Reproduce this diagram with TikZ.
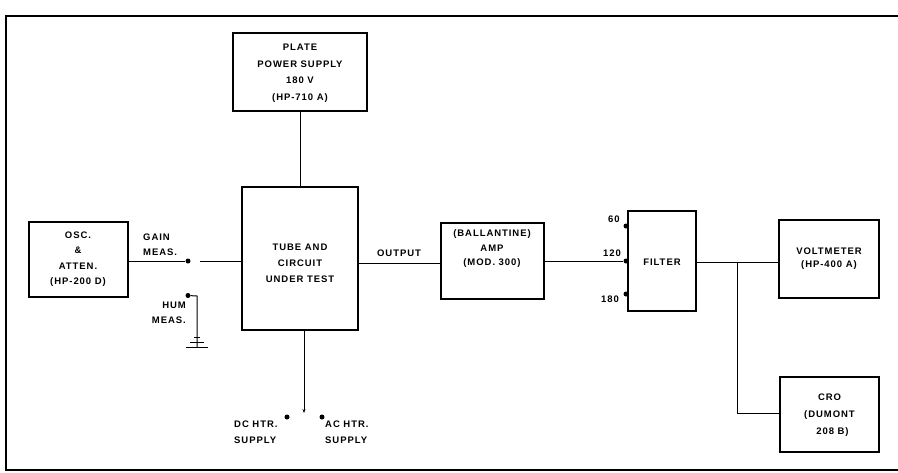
\documentclass[tikz,border=0pt]{standalone}
\usepackage{fontspec}
\setmainfont{Liberation Sans}[LetterSpace=10]
\usetikzlibrary{arrows.meta}
\begin{document}
\begin{tikzpicture}[x=1pt,y=-1pt,
  box/.style={draw,line width=1.6pt,inner sep=0pt},
  wire/.style={line width=1pt},
  lbl/.style={font=\fontsize{9.5}{15.5}\selectfont\bfseries,align=center,inner sep=0pt},
  dotn/.style={circle,fill,inner sep=0pt,minimum size=5pt}]
\useasboundingbox (0,0) rectangle (898,472);
% frame
\draw[line width=1.8pt] (898,16) -- (6,16) -- (6,470) -- (898,470);
% boxes
\node[box,minimum width=99pt,minimum height=75pt] (osc) at (78.5,259.5) {};
\node[box,minimum width=134pt,minimum height=78pt] (plate) at (300,72) {};
\node[box,minimum width=116pt,minimum height=143pt] (tube) at (300,258.5) {};
\node[box,minimum width=103pt,minimum height=76pt] (amp) at (492.5,261) {};
\node[box,minimum width=68pt,minimum height=100pt] (filt) at (662,261) {};
\node[box,minimum width=100pt,minimum height=78pt] (volt) at (829,259) {};
\node[box,minimum width=99pt,minimum height=75pt] (cro) at (829.5,414.5) {};
% box texts
\node[lbl] (osct) at (78,259) {OSC.\\\&\\ATTEN.\\(HP-200 D)};
\node[lbl,font=\fontsize{9.5}{16.5}\selectfont\bfseries] (platet) at (300,73) {PLATE\\POWER SUPPLY\\180 V\\(HP-710 A)};
\node[lbl,font=\fontsize{9.5}{16}\selectfont\bfseries] (tubet) at (300,263) {TUBE AND\\CIRCUIT\\UNDER TEST};
\node[lbl,font=\fontsize{9.5}{14.5}\selectfont\bfseries] (ampt) at (492,249) {(BALLANTINE)\\AMP\\(MOD. 300)};
\node[lbl] (filtt) at (662,262) {FILTER};
\node[lbl,font=\fontsize{9.5}{13}\selectfont\bfseries] (voltt) at (829,259) {VOLTMETER\\(HP-400 A)};
\node[lbl,font=\fontsize{9.5}{17}\selectfont\bfseries] (crot) at (829.5,415) {CRO\\(DUMONT\\\hspace*{6pt}208 B)};
% input switch
\node[dotn] (gd) at (188,261) {};
\node[dotn] (hd) at (188,295.5) {};
\coordinate (arm) at (200,261);
\draw[wire] (osc.east |- gd) -- (gd);
\draw[wire] (arm) -- (tube.west |- arm);
\node[lbl,align=left,anchor=west] (gainl) at (143,244.5) {GAIN\\MEAS.};
\node[lbl,align=right,anchor=east] (huml) at (186,313) {HUM\\MEAS.};
\coordinate (gnd) at (197,347);
\draw[wire] (hd) -- (197,296) -- (gnd);
\draw[wire] ([xshift=-11pt]gnd) -- ([xshift=11pt]gnd);
\draw[wire] ([xshift=-7pt,yshift=5pt]gnd) -- ([xshift=7pt,yshift=5pt]gnd);
\draw[wire] ([xshift=-3pt,yshift=10pt]gnd) -- ([xshift=3pt,yshift=10pt]gnd);
% plate supply
\draw[wire] (plate.south) -- (tube.north -| plate.south);
% heater switch
\coordinate (htr) at (304,413);
\draw[wire,-{Stealth[length=4pt,width=3pt]}] (tube.south -| htr) -- (htr);
\node[dotn] (dcd) at (287,417) {};
\node[dotn] (acd) at (322,417) {};
\node[lbl,align=left,anchor=north west] (dcl) at (234,421) {DC HTR.\\SUPPLY};
\node[lbl,align=left,anchor=north west] (acl) at (325,421) {AC HTR.\\SUPPLY};
% output
\draw[wire] (tube.east |- 0,263) -- (amp.west |- 0,263);
\node[lbl] (outl) at (399,253) {OUTPUT};
% filter inputs
\node[dotn] (f60) at (626,226) {};
\node[dotn] (f120) at (626,261) {};
\node[dotn] (f180) at (626,294) {};
\draw[wire] (amp.east |- f120) -- (f120);
\node[lbl] (l60) at (614,219) {60};
\node[lbl] (l120) at (612,253) {120};
\node[lbl] (l180) at (610,299) {180};
% outputs
\coordinate (j) at (737,262);
\draw[wire] (filt.east |- j) -- (volt.west |- j);
\draw[wire] (j) -- (737,413) -- (cro.west |- 0,413);
\end{tikzpicture}
\end{document}
